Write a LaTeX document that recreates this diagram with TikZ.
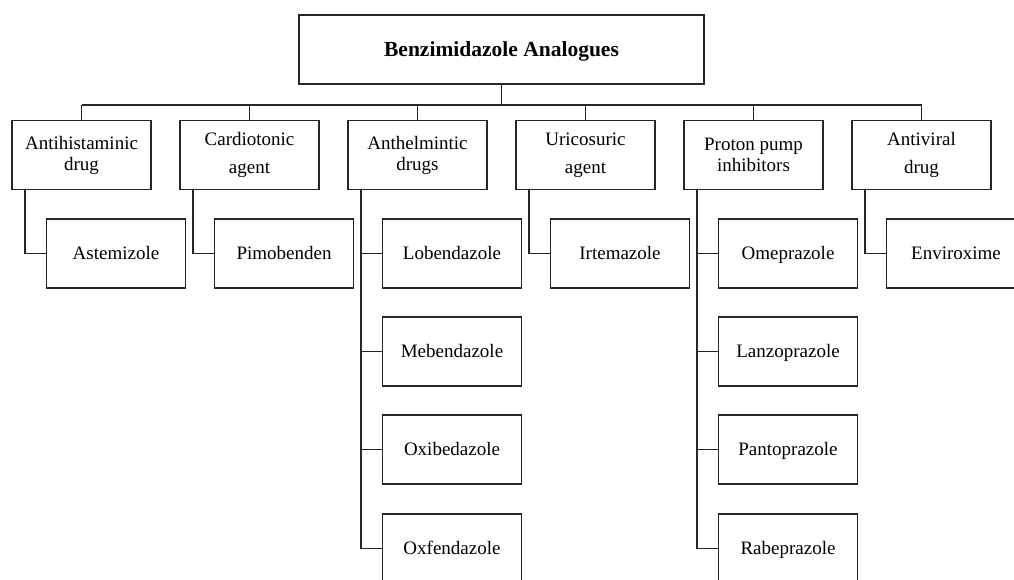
\documentclass[tikz,border=0pt]{standalone}
\usepackage{fontspec}
\setmainfont{Liberation Serif}
\begin{document}
\begin{tikzpicture}[x=1pt,y=-1pt,
  box/.style={draw=black!85, line width=1.7pt, inner sep=0pt, minimum width=139pt, minimum height=69pt, align=center, font=\fontsize{19}{21}\selectfont},
  leaf/.style={box, text height=12.5pt, text depth=0pt},
  conn/.style={draw=black!85, line width=1.7pt}]
\useasboundingbox (0,0) rectangle (1014,579);
\clip (0,0) rectangle (1014,579);
\node[box, text height=14pt, text depth=0pt, minimum width=405pt, font=\fontsize{21.5}{24}\selectfont\bfseries] (top) at (501.5,49.5) {Benzimidazole Analogues};
% categories
\node[box] (c1) at (81.5,155) {Antihistaminic\\drug};
\node[box] (c2) at (249.5,155) {Cardiotonic\\[7pt]agent};
\node[box] (c3) at (417.5,155) {Anthelmintic\\drugs};
\node[box] (c4) at (585.5,155) {Uricosuric\\[7pt]agent};
\node[box] (c5) at (753.5,155) {Proton pump\\inhibitors};
\node[box] (c6) at (921.5,155) {Antiviral\\[7pt]drug};
% children
\node[leaf] (a1) at (116,253.5) {Astemizole};
\node[leaf] (b1) at (284,253.5) {Pimobenden};
\node[leaf] (d1) at (452,253.5) {Lobendazole};
\node[leaf] (d2) at (452,351.5) {Mebendazole};
\node[leaf] (d3) at (452,449.5) {Oxibedazole};
\node[leaf] (d4) at (452,548.5) {Oxfendazole};
\node[leaf] (e1) at (620,253.5) {Irtemazole};
\node[leaf] (f1) at (788,253.5) {Omeprazole};
\node[leaf] (f2) at (788,351.5) {Lanzoprazole};
\node[leaf] (f3) at (788,449.5) {Pantoprazole};
\node[leaf] (f4) at (788,548.5) {Rabeprazole};
\node[leaf] (g1) at (956,253.5) {Enviroxime};
% bus
\coordinate (bus) at (501.5,105);
\draw[conn] (top.south) -- (bus);
\draw[conn] (c1.north |- bus) -- (c6.north |- bus);
\foreach \c in {c1,c2,c3,c4,c5,c6} \draw[conn] (\c.north |- bus) -- (\c.north);
% child connectors
\draw[conn] ([xshift=14pt]c1.south west) |- (a1.west);
\draw[conn] ([xshift=14pt]c2.south west) |- (b1.west);
\draw[conn] ([xshift=14pt]c3.south west) |- (d4.west);
\foreach \n in {d1,d2,d3} \draw[conn] ([xshift=14pt]c3.south west |- \n.west) -- (\n.west);
\draw[conn] ([xshift=14pt]c4.south west) |- (e1.west);
\draw[conn] ([xshift=14pt]c5.south west) |- (f4.west);
\foreach \n in {f1,f2,f3} \draw[conn] ([xshift=14pt]c5.south west |- \n.west) -- (\n.west);
\draw[conn] ([xshift=14pt]c6.south west) |- (g1.west);
\end{tikzpicture}
\end{document}
